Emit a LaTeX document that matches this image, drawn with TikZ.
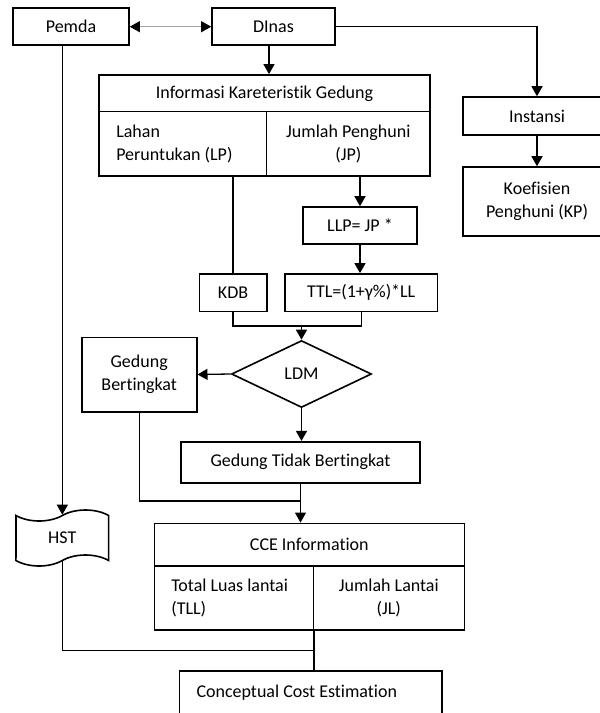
\documentclass[tikz,border=0pt]{standalone}
\usepackage{fontspec}
\setmainfont{Carlito}[Ligatures=NoCommon]
\usetikzlibrary{arrows.meta,shapes.geometric,shapes.symbols,calc}

\tikzset{
  cce scheme/.style = {
    x=1pt, y=-1pt,
    font=\fontsize{18}{23}\selectfont,
    % blocks
    blk/.style      = {draw, line width=1.6pt, inner sep=0pt, align=center},
    blk left/.style = {blk, align=flush left, text width=##1},
    % lines, arrows
    flow line/.style  = {line width=1.3pt, -{Triangle[width=11pt,length=10pt]}},
    plain line/.style = {line width=1.3pt},
    both line/.style  = {line width=0.9pt, gray!70,
        {Triangle[black,width=11pt,length=10pt]}-{Triangle[black,width=11pt,length=10pt]}},
  }
}

\begin{document}
\begin{tikzpicture}[cce scheme]
\def\blockat#1(#2)<#3,#4>[#5] at (#6);{
  \node[#1, minimum width=#3pt, minimum height=#4pt] (#2) at (#6) {#5};}
\useasboundingbox (0,0) rectangle (600,713);
\clip (0,0) rectangle (600,713);
%---------------------------------------------
\blockat blk(pemda)<116,37>[Pemda] at (71,26.7);
\blockat blk(dinas)<123,37>[DInas] at (273.5,26.7);
\blockat blk(instansi)<148,38>[Instansi] at (537,116);
\blockat blk(kp)<148,69>[Koefisien\\Penghuni (KP)] at (537,201.5);
\blockat blk(info)<331,36.7>[Informasi Kareteristik Gedung] at (264.5,93.3);
\blockat {blk left=133pt}(lp)<167.7,64.3>[Lahan\\Peruntukan (LP)] at (182.8,143.8);
\blockat blk(jp)<163.3,64.3>[Jumlah Penghuni\\(JP)] at (348.3,143.8);
\blockat blk(llp)<114,37>[LLP= JP *] at (360,225.5);
\blockat blk(kdb)<67.4,37.7>[KDB] at (233,292.8);
\blockat blk(ttl)<152.3,37.7>[TTL=(1+γ\%)*LL] at (361.2,292.8);
\blockat {blk, diamond}(ldm)<140,67>[LDM] at (301.5,374);
\blockat blk(gb)<115,74.4>[Gedung\\Bertingkat] at (139.2,374.5);
\blockat blk(gtb)<239,41>[Gedung Tidak Bertingkat] at (300.5,462.2);
\blockat {blk, tape, tape bend height=11pt}(hst)<92.7,56>[HST] at (62.3,538);
\blockat blk(cce)<310,42.7>[CCE Information] at (309.3,544.7);
\blockat {blk left=125pt}(tll)<159,64>[Total Luas lantai\\(TLL)] at (233.8,598);
\blockat blk(jl)<151,64>[Jumlah Lantai\\(JL)] at (388.8,598);
\blockat {blk left=228pt}(cost)<262.4,44>[Conceptual Cost Estimation] at (310.5,692.7);
%---------------------------------------------
\draw[both line] (pemda) -- (dinas);
\draw[flow line] ([xshift=-4.5pt]dinas.south) -- ([xshift=-4.5pt]dinas.south |- info.north);
\draw[flow line] (dinas.east) -| (instansi.north);
\draw[flow line] (instansi) -- (kp);
\draw[flow line] (hst.north |- pemda.south) -- (hst.north);
\draw[plain line] (kdb.north |- lp.south) -- (kdb.north);
\draw[flow line] (llp.north |- jp.south) -- (llp.north);
\draw[flow line] (llp.south) -- (llp.south |- ttl.north);
\coordinate (kdbttl) at ($(ldm.north |- kdb.south)!0.5!(ldm.north)$);
\draw[plain line] (kdb.south) |- (kdbttl) -| (ttl.south);
\draw[flow line] (kdbttl) -- (ldm.north);
\draw[flow line] (ldm.west) -- (gb.east);
\draw[flow line] (ldm.south) -- (ldm.south |- gtb.north);
\coordinate (gbjoin) at ($(gtb.south)!0.45!(gtb.south |- cce.north)$);
\draw[plain line] (gb.south) |- (gbjoin);
\draw[flow line] (gtb.south) -- (gtb.south |- cce.north);
\coordinate (hstjoin) at ($(tll.south east)!0.5!(tll.south east |- cost.north)$);
\draw[plain line] (hst.south) |- (hstjoin);
\draw[plain line] (tll.south east) -- (tll.south east |- cost.north);
\end{tikzpicture}
\end{document}
